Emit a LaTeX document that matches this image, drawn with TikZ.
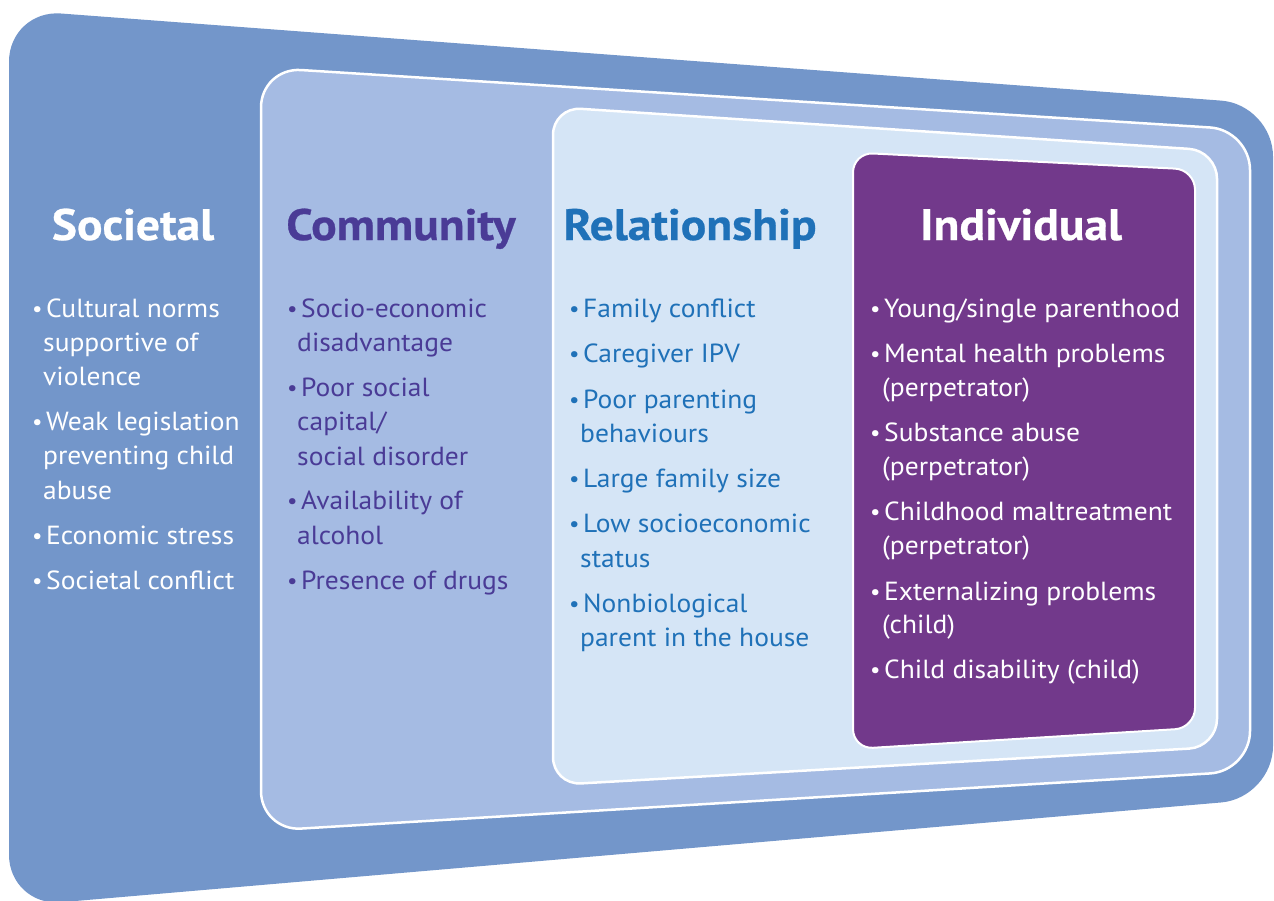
\documentclass[tikz,border=0pt]{standalone}
\usepackage{fontspec}
\setmainfont{PT Sans}[FakeStretch=1.05]
\newfontfamily\headfont{PT Sans}[FakeStretch=1.08, BoldFeatures={FakeBold=0.6}]
\definecolor{socblue}{HTML}{7396CA}
\definecolor{comblue}{HTML}{A5BBE3}
\definecolor{relblue}{HTML}{D5E5F6}
\definecolor{indpurple}{HTML}{72398B}
\definecolor{comtext}{HTML}{4A3B96}
\definecolor{reltext}{HTML}{1F71B8}
\newcommand{\blt}{\makebox[14pt][l]{\fontsize{22}{22}\selectfont\raisebox{1pt}{•}}}
\begin{document}
\begin{tikzpicture}[x=1pt,y=-1pt,
  ln/.style={anchor=base west, inner sep=0pt, font=\fontsize{26.2}{30}\selectfont},
  head/.style={anchor=base, inner sep=0pt, font=\headfont\fontsize{44}{50}\selectfont\bfseries},
  soc/.style={ln, text=white},
  com/.style={ln, text=comtext},
  rel/.style={ln, text=reltext},
  ind/.style={ln, text=white}]
\useasboundingbox (0,0) rectangle (1274,900);
% layers
\fill[socblue, rounded corners=52pt] (9,400) -- (9,9.6) -- (1273,104.5) -- (1273,798) -- (9,906.7) -- cycle;
\filldraw[fill=comblue, draw=white, line width=2.5pt, rounded corners=40pt] (261,400) -- (261,67.5) -- (1250,130) -- (1250,771) -- (261,831) -- cycle;
\filldraw[fill=relblue, draw=white, line width=2.5pt, rounded corners=28pt] (553,400) -- (553,107) -- (1217,150.7) -- (1217,747) -- (553,785) -- cycle;
\filldraw[fill=indpurple, draw=white, line width=2pt, rounded corners=20pt] (853,400) -- (853,152.5) -- (1195,169.6) -- (1195,728) -- (853,749) -- cycle;
% headings
\node[head, text=white] (hsoc) at (133,240) {Societal};
\node[head, text=comtext] (hcom) at (401,240) {Community};
\node[head, text=reltext] (hrel) at (690,240) {Relationship};
\node[head, text=white] (hind) at (1021,240) {Individual};
% societal
\node[soc] (s1) at (32,317) {\blt Cultural norms};
\node[soc] (s2) at (43,351) {supportive of};
\node[soc] (s3) at (43,385) {violence};
\node[soc] (s4) at (32,430) {\blt Weak legislation};
\node[soc] (s5) at (43,464) {preventing child};
\node[soc] (s6) at (43,499) {abuse};
\node[soc] (s7) at (32,544) {\blt Economic stress};
\node[soc] (s8) at (32,589) {\blt Societal conflict};
% community
\node[com] (c1) at (287,317) {\blt Socio-economic};
\node[com] (c2) at (297,351) {disadvantage};
\node[com] (c3) at (287,396) {\blt Poor social};
\node[com] (c4) at (297,430) {capital/};
\node[com] (c5) at (297,465) {social disorder};
\node[com] (c6) at (287,509) {\blt Availability of};
\node[com] (c7) at (297,544) {alcohol};
\node[com] (c8) at (287,589) {\blt Presence of drugs};
% relationship
\node[rel] (r1) at (569,317) {\blt Family conflict};
\node[rel] (r2) at (569,362) {\blt Caregiver IPV};
\node[rel] (r3) at (569,408) {\blt Poor parenting};
\node[rel] (r4) at (580,442) {behaviours};
\node[rel] (r5) at (569,487) {\blt Large family size};
\node[rel] (r6) at (569,532) {\blt Low socioeconomic};
\node[rel] (r7) at (580,567) {status};
\node[rel] (r8) at (569,612) {\blt Nonbiological};
\node[rel] (r9) at (580,646) {parent in the house};
% individual
\node[ind] (i1) at (870,317) {\blt Young/single parenthood};
\node[ind] (i2) at (870,362) {\blt Mental health problems};
\node[ind] (i3) at (882,396) {(perpetrator)};
\node[ind] (i4) at (870,441) {\blt Substance abuse};
\node[ind] (i5) at (882,475) {(perpetrator)};
\node[ind] (i6) at (870,520) {\blt Childhood maltreatment};
\node[ind] (i7) at (882,554) {(perpetrator)};
\node[ind] (i8) at (870,600) {\blt Externalizing problems};
\node[ind] (i9) at (882,633) {(child)};
\node[ind] (i10) at (870,678) {\blt Child disability (child)};
\end{tikzpicture}
\end{document}
